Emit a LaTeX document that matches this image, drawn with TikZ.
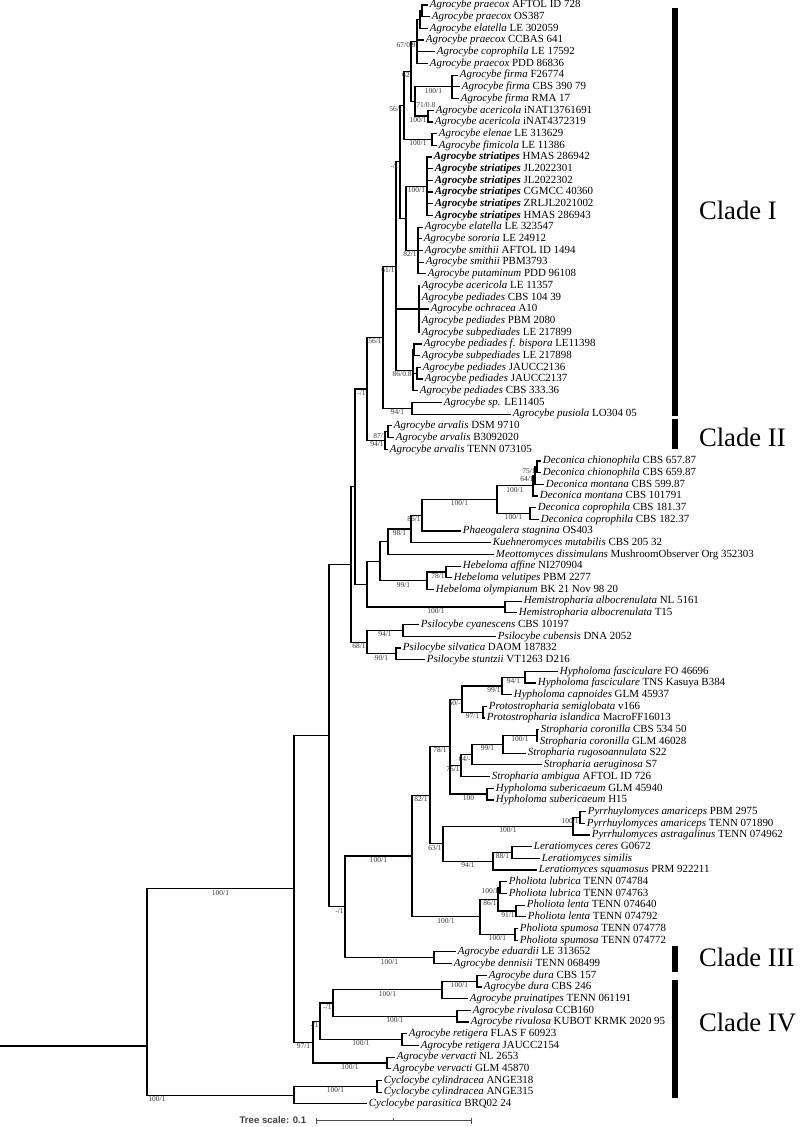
\documentclass[tikz,border=0pt]{standalone}
\usepackage{fontspec}
\setmainfont{Liberation Serif}
\newfontfamily\scalesans{Liberation Sans}
\usepackage{tikz}

\begin{document}
\begin{tikzpicture}[x=0.75pt, y=-8.7675pt, line width=0.9pt,
  tip/.style={anchor=west, inner xsep=1pt, inner ysep=0pt, text height=6pt, text depth=1.8pt, font=\fontsize{8.2}{9}\selectfont},
  bs/.style={pos=0.75, anchor=north, inner sep=0.6pt, font=\fontsize{5.6}{6}\selectfont, text=black!80},
  bsr/.style={bs, pos=1, anchor=north east},
  bsl/.style={bs, pos=1, anchor=north west},
  cladebar/.style={line width=4.5pt},
  clade/.style={anchor=west, font=\fontsize{20}{24}\selectfont}]
\useasboundingbox (0,-0.4277) rectangle (801,95.98);

\node[tip] (t0) at (428,0) {\textit{Agrocybe praecox} AFTOL ID 728};
\node[tip] (t1) at (430,1) {\textit{Agrocybe praecox} OS387};
\node[tip] (t2) at (428,2) {\textit{Agrocybe elatella} LE 302059};
\node[tip] (t3) at (424,3) {\textit{Agrocybe praecox} CCBAS 641};
\node[tip] (t4) at (435,4) {\textit{Agrocybe coprophila} LE 17592};
\node[tip] (t5) at (428,5) {\textit{Agrocybe praecox} PDD 86836};
\node[tip] (t6) at (458,6) {\textit{Agrocybe firma} F26774};
\node[tip] (t7) at (460,7) {\textit{Agrocybe firma} CBS 390 79};
\node[tip] (t8) at (459,8) {\textit{Agrocybe firma} RMA 17};
\node[tip] (t9) at (434,9) {\textit{Agrocybe acericola} iNAT13761691};
\node[tip] (t10) at (433,10) {\textit{Agrocybe acericola} iNAT4372319};
\node[tip] (t11) at (437,11) {\textit{Agrocybe elenae} LE 313629};
\node[tip] (t12) at (437,12) {\textit{Agrocybe fimicola} LE 11386};
\node[tip] (t13) at (432,13) {\textbf{\textit{Agrocybe striatipes}} HMAS 286942};
\node[tip] (t14) at (433,14) {\textbf{\textit{Agrocybe striatipes}} JL2022301};
\node[tip] (t15) at (433,15) {\textbf{\textit{Agrocybe striatipes}} JL2022302};
\node[tip] (t16) at (433,16) {\textbf{\textit{Agrocybe striatipes}} CGMCC 40360};
\node[tip] (t17) at (433,17) {\textbf{\textit{Agrocybe striatipes}} ZRLJL2021002};
\node[tip] (t18) at (433,18) {\textbf{\textit{Agrocybe striatipes}} HMAS 286943};
\node[tip] (t19) at (423,19) {\textit{Agrocybe elatella} LE 323547};
\node[tip] (t20) at (422,20) {\textit{Agrocybe sororia} LE 24912};
\node[tip] (t21) at (423,21) {\textit{Agrocybe smithii} AFTOL ID 1494};
\node[tip] (t22) at (424,22) {\textit{Agrocybe smithii} PBM3793};
\node[tip] (t23) at (426,23) {\textit{Agrocybe putaminum} PDD 96108};
\node[tip] (t24) at (420,24) {\textit{Agrocybe acericola} LE 11357};
\node[tip] (t25) at (420,25) {\textit{Agrocybe pediades} CBS 104 39};
\node[tip] (t26) at (429,26) {\textit{Agrocybe ochracea} A10};
\node[tip] (t27) at (420,27) {\textit{Agrocybe pediades} PBM 2080};
\node[tip] (t28) at (420,28) {\textit{Agrocybe subpediades} LE 217899};
\node[tip] (t29) at (422,29) {\textit{Agrocybe pediades f. bispora} LE11398};
\node[tip] (t30) at (420,30) {\textit{Agrocybe subpediades} LE 217898};
\node[tip] (t31) at (421,31) {\textit{Agrocybe pediades} JAUCC2136};
\node[tip] (t32) at (423,32) {\textit{Agrocybe pediades} JAUCC2137};
\node[tip] (t33) at (418,33) {\textit{Agrocybe pediades} CBS 333.36};
\node[tip] (t34) at (442,34) {\textit{Agrocybe sp.} LE11405};
\node[tip] (t35) at (511,35) {\textit{Agrocybe pusiola} LO304 05};
\node[tip] (t36) at (392,36) {\textit{Agrocybe arvalis} DSM 9710};
\node[tip] (t37) at (394,37) {\textit{Agrocybe arvalis} B3092020};
\node[tip] (t38) at (388,38) {\textit{Agrocybe arvalis} TENN 073105};
\node[tip] (t39) at (541,39) {\textit{Deconica chionophila} CBS 657.87};
\node[tip] (t40) at (541,40) {\textit{Deconica chionophila} CBS 659.87};
\node[tip] (t41) at (544,41) {\textit{Deconica montana} CBS 599.87};
\node[tip] (t42) at (538,42) {\textit{Deconica montana} CBS 101791};
\node[tip] (t43) at (536,43) {\textit{Deconica coprophila} CBS 181.37};
\node[tip] (t44) at (539,44) {\textit{Deconica coprophila} CBS 182.37};
\node[tip] (t45) at (461,45) {\textit{Phaeogalera stagnina} OS403};
\node[tip] (t46) at (491,46) {\textit{Kuehneromyces mutabilis} CBS 205 32};
\node[tip] (t47) at (494,47) {\textit{Meottomyces dissimulans} MushroomObserver Org 352303};
\node[tip] (t48) at (461,48) {\textit{Hebeloma affine} NI270904};
\node[tip] (t49) at (452,49) {\textit{Hebeloma velutipes} PBM 2277};
\node[tip] (t50) at (434,50) {\textit{Hebeloma olympianum} BK 21 Nov 98 20};
\node[tip] (t51) at (522,51) {\textit{Hemistropharia albocrenulata} NL 5161};
\node[tip] (t52) at (517,52) {\textit{Hemistropharia albocrenulata} T15};
\node[tip] (t53) at (419,53) {\textit{Psilocybe cyanescens} CBS 10197};
\node[tip] (t54) at (496,54) {\textit{Psilocybe cubensis} DNA 2052};
\node[tip] (t55) at (401,55) {\textit{Psilocybe silvatica} DAOM 187832};
\node[tip] (t56) at (425,56) {\textit{Psilocybe stuntzii} VT1263 D216};
\node[tip] (t57) at (558,57) {\textit{Hypholoma fasciculare} FO 46696};
\node[tip] (t58) at (536,58) {\textit{Hypholoma fasciculare} TNS Kasuya B384};
\node[tip] (t59) at (512,59) {\textit{Hypholoma capnoides} GLM 45937};
\node[tip] (t60) at (487,60) {\textit{Protostropharia semiglobata} v166};
\node[tip] (t61) at (485,61) {\textit{Protostropharia islandica} MacroFF16013};
\node[tip] (t62) at (539,62) {\textit{Stropharia coronilla} CBS 534 50};
\node[tip] (t63) at (538,63) {\textit{Stropharia coronilla} GLM 46028};
\node[tip] (t64) at (526,64) {\textit{Stropharia rugosoannulata} S22};
\node[tip] (t65) at (542,65) {\textit{Stropharia aeruginosa} S7};
\node[tip] (t66) at (490,66) {\textit{Stropharia ambigua} AFTOL ID 726};
\node[tip] (t67) at (494,67) {\textit{Hypholoma subericaeum} GLM 45940};
\node[tip] (t68) at (494,68) {\textit{Hypholoma subericaeum} H15};
\node[tip] (t69) at (586,69) {\textit{Pyrrhuylomyces amariceps} PBM 2975};
\node[tip] (t70) at (585,70) {\textit{Pyrrhuylomyces amariceps} TENN 071890};
\node[tip] (t71) at (590,71) {\textit{Pyrrhulomyces astragalinus} TENN 074962};
\node[tip] (t72) at (532,72) {\textit{Leratiomyces ceres} G0672};
\node[tip] (t73) at (540,73) {\textit{Leratiomyces similis}};
\node[tip] (t74) at (537,74) {\textit{Leratiomyces squamosus} PRM 922211};
\node[tip] (t75) at (507,75) {\textit{Pholiota lubrica} TENN 074784};
\node[tip] (t76) at (507,76) {\textit{Pholiota lubrica} TENN 074763};
\node[tip] (t77) at (525,77) {\textit{Pholiota lenta} TENN 074640};
\node[tip] (t78) at (526,78) {\textit{Pholiota lenta} TENN 074792};
\node[tip] (t79) at (518,79) {\textit{Pholiota spumosa} TENN 074778};
\node[tip] (t80) at (518,80) {\textit{Pholiota spumosa} TENN 074772};
\node[tip] (t81) at (456,81) {\textit{Agrocybe eduardii} LE 313652};
\node[tip] (t82) at (452,82) {\textit{Agrocybe dennisii} TENN 068499};
\node[tip] (t83) at (487,83) {\textit{Agrocybe dura} CBS 157};
\node[tip] (t84) at (482,84) {\textit{Agrocybe dura} CBS 246};
\node[tip] (t85) at (468,85) {\textit{Agrocybe pruinatipes} TENN 061191};
\node[tip] (t86) at (471,86) {\textit{Agrocybe rivulosa} CCB160};
\node[tip] (t87) at (469,87) {\textit{Agrocybe rivulosa} KUBOT KRMK 2020 95};
\node[tip] (t88) at (407,88) {\textit{Agrocybe retigera} FLAS F 60923};
\node[tip] (t89) at (419,89) {\textit{Agrocybe retigera} JAUCC2154};
\node[tip] (t90) at (395,90) {\textit{Agrocybe vervacti} NL 2653};
\node[tip] (t91) at (391,91) {\textit{Agrocybe vervacti} GLM 45870};
\node[tip] (t92) at (382,92) {\textit{Cyclocybe cylindracea} ANGE318};
\node[tip] (t93) at (382,93) {\textit{Cyclocybe cylindracea} ANGE315};
\node[tip] (t94) at (367,94) {\textit{Cyclocybe parasitica} BRQ02 24};

\coordinate (P1) at (422,0.5);
\coordinate (P2) at (420,1.25);
\coordinate (T1) at (417,3.125);
\coordinate (FI) at (452,7);
\coordinate (AC) at (428,9.5);
\coordinate (F) at (415,8.25);
\coordinate (N62) at (411,5.69);
\coordinate (EF) at (432,11.5);
\coordinate (N56) at (404,8.59);
\coordinate (S) at (427,15.5);
\coordinate (E) at (418,21);
\coordinate (SE) at (406,18.25);
\coordinate (Y) at (400,13.42);
\coordinate (PDa) at (419,26);
\coordinate (B) at (414,29.5);
\coordinate (JA) at (417,31.5);
\coordinate (N86) at (413,31.25);
\coordinate (X) at (396,22.34);
\coordinate (SP) at (412,34.5);
\coordinate (CI) at (383,28.42);
\coordinate (A1) at (388,36.5);
\coordinate (CII) at (385,37.25);
\coordinate (C12) at (367,32.84);
\coordinate (D1) at (537,39.5);
\coordinate (D2) at (535,40.25);
\coordinate (D3) at (533,41.13);
\coordinate (DC) at (530,43.5);
\coordinate (D) at (497,42.31);
\coordinate (P86) at (422,43.66);
\coordinate (K) at (411,44.83);
\coordinate (K2) at (388,45.91);
\coordinate (H78) at (446,48.5);
\coordinate (HB) at (427,49.25);
\coordinate (R) at (380,47.58);
\coordinate (HM) at (505,51.5);
\coordinate (Q) at (367,49.54);
\coordinate (W) at (355,41.19);
\coordinate (PC) at (403,53.5);
\coordinate (PV) at (396,55.5);
\coordinate (PS) at (367,54.5);
\coordinate (V) at (351,47.85);
\coordinate (HF) at (525,57.5);
\coordinate (H99) at (502,58.25);
\coordinate (PR) at (483,60.5);
\coordinate (H60) at (462,59.38);
\coordinate (S100) at (537,62.5);
\coordinate (S99) at (503,63.25);
\coordinate (S64) at (472,64.13);
\coordinate (S75) at (461,65.06);
\coordinate (HS) at (487,67.5);
\coordinate (ST3) at (450,63.44);
\coordinate (PY1) at (580,69.5);
\coordinate (PY) at (573,70.25);
\coordinate (L88) at (512,72.5);
\coordinate (LR) at (493,73.25);
\coordinate (M) at (443,71.75);
\coordinate (ST2) at (430,67.6);
\coordinate (L1) at (500,75.5);
\coordinate (L2) at (516,77.5);
\coordinate (L3) at (498,76.5);
\coordinate (SP2) at (515,79.5);
\coordinate (PH) at (480,78);
\coordinate (ST) at (412,72.8);
\coordinate (ED) at (434,81.5);
\coordinate (G) at (345,77.15);
\coordinate (U) at (329,62.5);
\coordinate (DU) at (477,83.5);
\coordinate (DP) at (442,84.25);
\coordinate (RV) at (457,86.5);
\coordinate (N1) at (333,85.38);
\coordinate (RT) at (402,88.5);
\coordinate (N2) at (320,86.94);
\coordinate (VV) at (387,90.5);
\coordinate (N3) at (313,88.72);
\coordinate (IN) at (294,75.61);
\coordinate (CY1) at (377,92.5);
\coordinate (CY) at (294,93.25);
\coordinate (root) at (147,89.05);
\coordinate (base) at (0,89.05);

% clade I and II
\draw (P1) |- (t0.west); \draw (P1) |- (t1.west);
\draw (P2) |- (P1); \draw (P2) |- (t2.west);
\draw (T1) |- (P2); \draw (T1) |- (t3.west); \draw (T1) |- (t4.west); \draw (T1) |- (t5.west);
\draw (FI) |- (t6.west); \draw (FI) |- (t7.west); \draw (FI) |- (t8.west);
\draw (AC) |- (t9.west); \draw (AC) |- (t10.west);
\draw (F) |- node[bs] {100/1} (FI); \draw (F) |- node[bsr] {100/1} (AC);
\draw (N62) |- node[bsr] {67/0.9} (T1); \draw (N62) |- node[bsl] {71/0.8} (F);
\draw (EF) |- (t11.west); \draw (EF) |- (t12.west);
\draw (N56) |- node[bsr] {62} (N62); \draw (N56) |- node[bs] {100/1} (EF);
\draw (S) |- (t13.west); \draw (S) |- (t14.west); \draw (S) |- (t15.west);
\draw (S) |- (t16.west); \draw (S) |- (t17.west); \draw (S) |- (t18.west);
\draw (E) |- (t19.west); \draw (E) |- (t20.west); \draw (E) |- (t21.west);
\draw (E) |- (t22.west); \draw (E) |- (t23.west);
\draw (SE) |- node[bs] {100/1} (S); \draw (SE) |- node[bsr] {82/1} (E);
\draw (Y) |- node[bsr] {56/1} (N56); \draw (Y) |- (SE);
\draw (PDa) |- (t24.west); \draw (PDa) |- (t25.west); \draw (PDa) |- (t26.west);
\draw (PDa) |- (t27.west); \draw (PDa) |- (t28.west);
\draw (B) |- (t29.west); \draw (B) |- (t30.west);
\draw (JA) |- (t31.west); \draw (JA) |- (t32.west);
\draw (N86) |- (B); \draw (N86) |- (JA); \draw (N86) |- (t33.west);
\draw (X) |- node[bsr] {-/1} (Y); \draw (X) |- (PDa); \draw (X) |- node[bsr] {86/0.8} (N86);
\draw (SP) |- (t34.west); \draw (SP) |- (t35.west);
\draw (CI) |- node[bsr] {61/1} (X); \draw (CI) |- node[bs] {94/1} (SP);
\draw (A1) |- (t36.west); \draw (A1) |- (t37.west);
\draw (CII) |- node[bsr] {87/1} (A1); \draw (CII) |- (t38.west);
\draw (C12) |- node[bsr] {56/1} (CI); \draw (C12) |- node[bsr] {94/1} (CII);
\draw (W) |- node[bsr] {-/1} (C12); \draw (W) |- (Q);

% Deconica to Psilocybe
\draw (D1) |- (t39.west); \draw (D1) |- (t40.west);
\draw (D2) |- node[bsr] {75/1} (D1); \draw (D2) |- (t41.west);
\draw (D3) |- node[bsr] {64/1} (D2); \draw (D3) |- (t42.west);
\draw (DC) |- (t43.west); \draw (DC) |- (t44.west);
\draw (D) |- node[bs] {100/1} (D3); \draw (D) |- node[bs] {100/1} (DC);
\draw (P86) |- node[bs] {100/1} (D); \draw (P86) |- (t45.west);
\draw (K) |- node[bsr] {86/1} (P86); \draw (K) |- (t46.west);
\draw (K2) |- node[bs] {98/1} (K); \draw (K2) |- (t47.west);
\draw (H78) |- (t48.west); \draw (H78) |- (t49.west);
\draw (HB) |- node[bsr] {78/1} (H78); \draw (HB) |- (t50.west);
\draw (R) |- (K2); \draw (R) |- node[bs] {99/1} (HB);
\draw (HM) |- (t51.west); \draw (HM) |- (t52.west);
\draw (Q) |- (R); \draw (Q) |- node[bs] {100/1} (HM);
\draw (PC) |- (t53.west); \draw (PC) |- (t54.west);
\draw (PV) |- (t55.west); \draw (PV) |- (t56.west);
\draw (PS) |- node[bs] {94/1} (PC); \draw (PS) |- node[bs] {90/1} (PV);
\draw (V) |- (W); \draw (V) |- node[bsr] {68/1} (PS);

% Strophariaceae
\draw (HF) |- (t57.west); \draw (HF) |- (t58.west);
\draw (H99) |- node[bs] {94/1} (HF); \draw (H99) |- (t59.west);
\draw (PR) |- (t60.west); \draw (PR) |- (t61.west);
\draw (H60) |- node[bsr] {99/1} (H99); \draw (H60) |- node[bs] {97/1} (PR);
\draw (S100) |- (t62.west); \draw (S100) |- (t63.west);
\draw (S99) |- node[bs] {100/1} (S100); \draw (S99) |- (t64.west);
\draw (S64) |- node[bs] {99/1} (S99); \draw (S64) |- (t65.west);
\draw (S75) |- node[bsr] {64/-} (S64); \draw (S75) |- (t66.west);
\draw (HS) |- (t67.west); \draw (HS) |- (t68.west);
\draw (ST3) |- node[bsr] {60/-} (H60); \draw (ST3) |- node[bsr] {75/1} (S75); \draw (ST3) |- node[bs] {100} (HS);
\draw (PY1) |- (t69.west); \draw (PY1) |- (t70.west);
\draw (PY) |- node[bsr] {100/1} (PY1); \draw (PY) |- (t71.west);
\draw (L88) |- (t72.west); \draw (L88) |- (t73.west);
\draw (LR) |- node[bs] {88/1} (L88); \draw (LR) |- (t74.west);
\draw (M) |- node[bs] {100/1} (PY); \draw (M) |- node[bs] {94/1} (LR);
\draw (ST2) |- node[bs] {78/1} (ST3); \draw (ST2) |- node[bsr] {63/1} (M);
\draw (L1) |- (t75.west); \draw (L1) |- (t76.west);
\draw (L2) |- (t77.west); \draw (L2) |- (t78.west);
\draw (L3) |- node[bsr] {100/1} (L1); \draw (L3) |- node[bsr] {91/1} (L2);
\draw (SP2) |- (t79.west); \draw (SP2) |- (t80.west);
\draw (PH) |- node[bsr] {86/1} (L3); \draw (PH) |- node[bs] {100/1} (SP2);
\draw (ST) |- node[bs] {82/1} (ST2); \draw (ST) |- node[bs] {100/1} (PH);
\draw (ED) |- (t81.west); \draw (ED) |- (t82.west);
\draw (G) |- node[bs] {100/1} (ST); \draw (G) |- node[bs] {100/1} (ED);
\draw (U) |- (V); \draw (U) |- node[bsr] {-/1} (G);

% clade IV and outgroup
\draw (DU) |- (t83.west); \draw (DU) |- (t84.west);
\draw (DP) |- node[bs] {100/1} (DU); \draw (DP) |- (t85.west);
\draw (RV) |- (t86.west); \draw (RV) |- (t87.west);
\draw (N1) |- node[bs] {100/1} (DP); \draw (N1) |- node[bs] {100/1} (RV);
\draw (RT) |- (t88.west); \draw (RT) |- (t89.west);
\draw (N2) |- node[bsr] {-/1} (N1); \draw (N2) |- node[bs] {100/1} (RT);
\draw (VV) |- (t90.west); \draw (VV) |- (t91.west);
\draw (N3) |- node[bsr] {-/1} (N2); \draw (N3) |- node[bs] {100/1} (VV);
\draw (IN) |- (U); \draw (IN) |- node[bs] {97/1} (N3);
\draw (CY1) |- (t92.west); \draw (CY1) |- (t93.west);
\draw (CY) |- node[bs] {100/1} (CY1); \draw (CY) |- (t94.west);
\draw (root) |- node[bs] {100/1} (IN); \draw (root) |- node[bsl, pos=0.5] {100/1} (CY);
\draw (base) -- (root);

\draw[cladebar] (675,0.26) -- (675,35.16);
\draw[cladebar] (675,35.4) -- (675,38.0);
\draw[cladebar] (675,80.5) -- (675,82.7);
\draw[cladebar] (675,83.4) -- (675,93.5);
\node[clade] (c1) at (694,17.6) {Clade I};
\node[clade] (c2) at (694,36.95) {Clade II};
\node[clade] (c3) at (694,81.5) {Clade III};
\node[clade] (c4) at (694,87.0) {Clade IV};

\node[anchor=west, inner sep=0pt, font=\scalesans\bfseries\fontsize{7.2}{8}\selectfont, text=black!75] (ts) at (239,95.4) {Tree scale: 0.1};
\draw[line width=0.6pt, black!70] (316,95.45) -- (471,95.45);
\draw[line width=0.6pt, black!70] (316,95.2) -- (316,95.7);
\draw[line width=0.6pt, black!70] (471,95.2) -- (471,95.7);
\draw[line width=0.6pt, black!70] (393,95.25) -- (393,95.45);
\end{tikzpicture}
\end{document}
